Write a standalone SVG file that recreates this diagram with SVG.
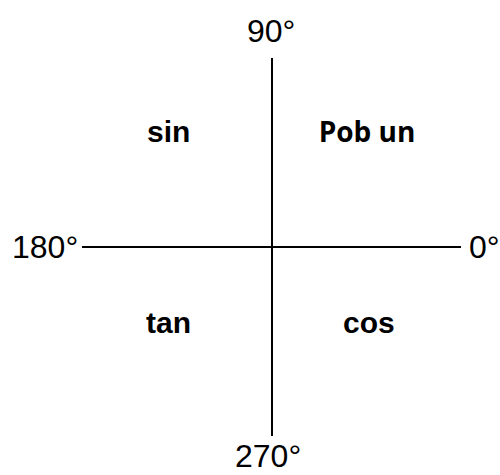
<svg xmlns="http://www.w3.org/2000/svg" width="500" height="475" viewBox="0 0 500 475">
<style>
.ax{stroke:#000;stroke-width:2;fill:none}
.deg{font-family:"Liberation Sans",Arial,sans-serif;font-size:32px;fill:#000}
.q{font-family:"Liberation Sans",Arial,sans-serif;font-size:30px;font-weight:bold;fill:#000}
.c{font-family:"Open Sans","Noto Sans",sans-serif;font-size:28px;font-weight:bold;fill:#000}
</style>
<rect width="500" height="475" fill="#fff"/>
<g id="connectors">
<line class="ax" x1="272" y1="58" x2="272" y2="436"/>
<line class="ax" x1="82" y1="247" x2="461" y2="247"/>
</g>
<g id="n90"><text class="deg" x="247" y="42">90°</text></g>
<g id="n180"><text class="deg" x="12" y="258">180°</text></g>
<g id="n0"><text class="deg" x="469" y="258">0°</text></g>
<g id="n270"><text class="deg" x="235" y="467">270°</text></g>
<g id="sin"><text class="q" x="147" y="142">sin</text></g>
<g id="pob"><text class="c" x="367" y="142" text-anchor="middle">Pob un</text></g>
<g id="tan"><text class="q" x="146" y="333">tan</text></g>
<g id="cos"><text class="q" x="343" y="333">cos</text></g>
</svg>
